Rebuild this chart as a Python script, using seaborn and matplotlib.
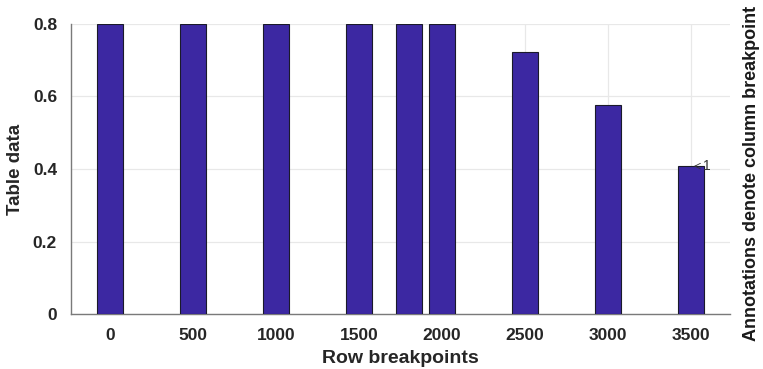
import pandas as pd
import matplotlib.pyplot as plt
import seaborn as sns

# Data
row_breakpoints = [0, 500, 1000, 1500, 1800, 2000, 2500, 3000, 3500]
table_data = [0.8, 0.8, 0.8, 0.8, 0.8, 0.8, 0.722, 0.577, 0.408]
tick_values = [0, 500, 1000, 1500, 2000, 2500, 3000, 3500]
annot_x = 3500
annot_y = 0.408
annot_text = "1"

df = pd.DataFrame({"row": row_breakpoints, "value": table_data})

sns.set_style("white")
plt.rcParams["font.family"] = ["Liberation Sans", "DejaVu Sans"]

fig = plt.figure(figsize=(7.63, 3.69), dpi=100, facecolor="white")
ax = fig.add_axes([0.093, 0.149, 0.864, 0.786])

sns.barplot(
    data=df,
    x="row",
    y="value",
    native_scale=True,
    width=0.8,
    color="#3c28a2",
    saturation=1,
    edgecolor="#1a1a2a",
    linewidth=0.8,
    ax=ax,
    zorder=3
)

ax.set_xlim(-235, 3735)
ax.set_ylim(0, 0.8)
ax.set_xticks(tick_values)
ax.set_xticklabels([str(t) for t in tick_values])
ax.set_yticks([0, 0.2, 0.4, 0.6, 0.8])
ax.set_yticklabels(["0", "0.2", "0.4", "0.6", "0.8"])

ax.grid(True, color="#e8e8e8", linewidth=0.9, zorder=0)
ax.set_axisbelow(True)

for side in ["top", "right"]:
    ax.spines[side].set_visible(False)
for side in ["left", "bottom"]:
    ax.spines[side].set_color("#7a7a7a")
    ax.spines[side].set_linewidth(1.0)

ax.tick_params(axis="both", labelsize=12.5, colors="#262626")
ax.tick_params(axis="y", length=3, color="#7a7a7a", pad=7)
ax.tick_params(axis="x", length=0, pad=10)
for lbl in ax.get_xticklabels() + ax.get_yticklabels():
    lbl.set_fontweight("bold")

ax.set_xlabel("Row breakpoints", fontsize=14, fontweight="bold", color="#262626", labelpad=5)
ax.set_ylabel("Table data", fontsize=13.5, fontweight="bold", color="#262626", labelpad=6)

ax.annotate(
    annot_text,
    xy=(annot_x, annot_y),
    xytext=(annot_x + 70, annot_y),
    fontsize=10,
    color="#333333",
    va="center",
    arrowprops=dict(arrowstyle="->", color="#333333", lw=0.6),
    zorder=5
)

fig.text(0.985, 0.53, "Annotations denote column breakpoint", rotation=90,
         ha="center", va="center", fontsize=13, fontweight="bold", color="#1a1a1a")

plt.savefig("out.png", dpi=100, facecolor="white")
plt.close()
